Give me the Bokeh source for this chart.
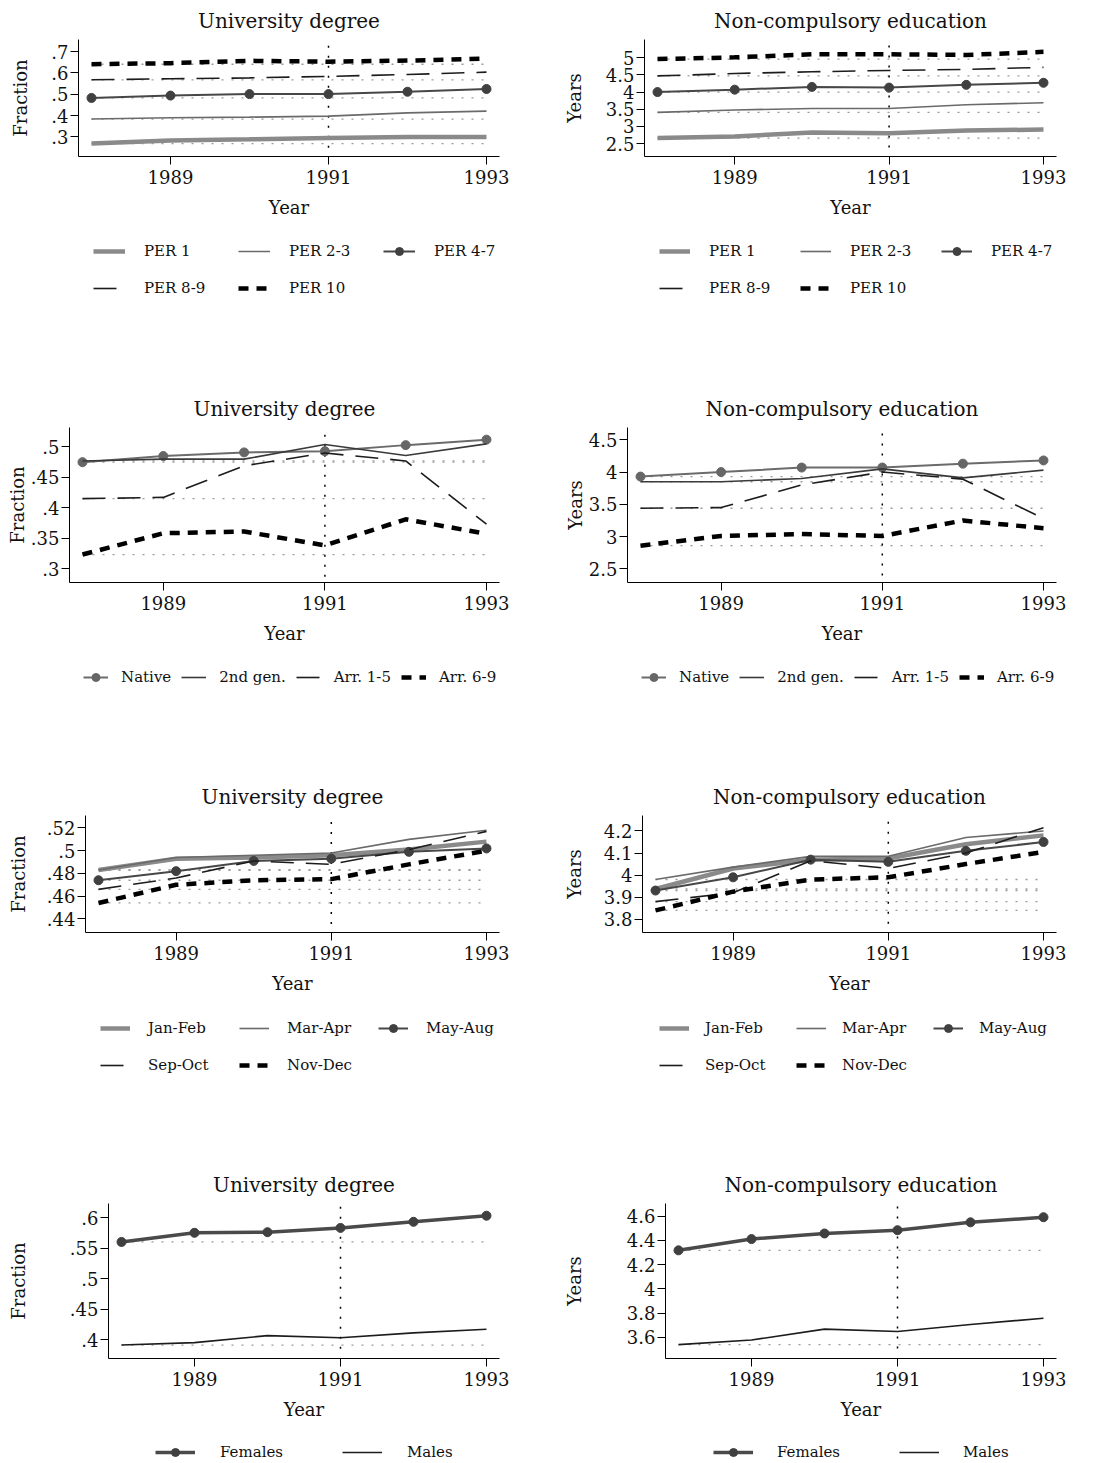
from bokeh.plotting import figure
from bokeh.models import Range1d, FixedTicker, Legend, LegendItem
from bokeh.layouts import row, column
from bokeh.embed import file_html
from bokeh.resources import INLINE

FONT = "DejaVu Serif"

# ---------------- data ----------------
years = [1988, 1989, 1990, 1991, 1992, 1993]
x_ticks = [1989, 1991, 1993]
x_tick_labels = ["1989", "1991", "1993"]
event_year = 1991
x_label = "Year"
title_uni = "University degree"
title_edu = "Non-compulsory education"
ylabel_uni = "Fraction"
ylabel_edu = "Years"

per_labels = ["PER 1", "PER 2-3", "PER 4-7", "PER 8-9", "PER 10"]
uni_per_1 = [0.269, 0.284, 0.289, 0.295, 0.300, 0.300]
uni_per_23 = [0.384, 0.390, 0.393, 0.398, 0.413, 0.421]
uni_per_47 = [0.483, 0.494, 0.501, 0.501, 0.512, 0.525]
uni_per_89 = [0.568, 0.573, 0.577, 0.584, 0.593, 0.604]
uni_per_10 = [0.641, 0.646, 0.657, 0.653, 0.658, 0.667]
edu_per_1 = [2.66, 2.71, 2.82, 2.80, 2.88, 2.91]
edu_per_23 = [3.41, 3.48, 3.52, 3.52, 3.63, 3.69]
edu_per_47 = [4.00, 4.07, 4.15, 4.13, 4.21, 4.27]
edu_per_89 = [4.47, 4.54, 4.59, 4.63, 4.66, 4.72]
edu_per_10 = [4.96, 5.01, 5.10, 5.10, 5.08, 5.17]

origin_labels = ["Native", "2nd gen.", "Arr. 1-5", "Arr. 6-9"]
uni_native = [0.475, 0.485, 0.491, 0.493, 0.503, 0.512]
uni_2nd = [0.477, 0.480, 0.480, 0.504, 0.486, 0.505]
uni_arr15 = [0.415, 0.417, 0.469, 0.490, 0.477, 0.373]
uni_arr69 = [0.323, 0.358, 0.361, 0.338, 0.381, 0.357]
edu_native = [3.93, 4.00, 4.07, 4.07, 4.13, 4.18]
edu_2nd = [3.85, 3.85, 3.90, 4.05, 3.91, 4.03]
edu_arr15 = [3.44, 3.45, 3.80, 4.00, 3.89, 3.28]
edu_arr69 = [2.86, 3.01, 3.04, 3.01, 3.25, 3.13]

month_labels = ["Jan-Feb", "Mar-Apr", "May-Aug", "Sep-Oct", "Nov-Dec"]
uni_janfeb = [0.483, 0.493, 0.494, 0.496, 0.501, 0.508]
uni_marapr = [0.483, 0.494, 0.496, 0.498, 0.510, 0.518]
uni_mayaug = [0.474, 0.482, 0.491, 0.493, 0.499, 0.502]
uni_sepoct = [0.466, 0.476, 0.491, 0.488, 0.501, 0.517]
uni_novdec = [0.454, 0.470, 0.474, 0.475, 0.488, 0.500]
edu_janfeb = [3.937, 4.030, 4.070, 4.075, 4.140, 4.180]
edu_marapr = [3.980, 4.036, 4.085, 4.085, 4.170, 4.200]
edu_mayaug = [3.930, 3.990, 4.070, 4.060, 4.110, 4.150]
edu_sepoct = [3.880, 3.920, 4.065, 4.030, 4.100, 4.215]
edu_novdec = [3.840, 3.925, 3.980, 3.990, 4.050, 4.105]

gender_labels = ["Females", "Males"]
uni_females = [0.560, 0.575, 0.576, 0.583, 0.593, 0.603]
uni_males = [0.391, 0.395, 0.4065, 0.403, 0.411, 0.417]
edu_females = [4.317, 4.410, 4.456, 4.483, 4.548, 4.590]
edu_males = [3.540, 3.578, 3.668, 3.649, 3.706, 3.758]

# y ticks / labels / axis limits / extent of the 1991 reference line
yt_uni_per = [0.3, 0.4, 0.5, 0.6, 0.7]
yl_uni_per = [".3", ".4", ".5", ".6", ".7"]
yt_edu_per = [2.5, 3.0, 3.5, 4.0, 4.5, 5.0]
yl_edu_per = ["2.5", "3", "3.5", "4", "4.5", "5"]
yt_uni_org = [0.3, 0.35, 0.4, 0.45, 0.5]
yl_uni_org = [".3", ".35", ".4", ".45", ".5"]
yt_edu_org = [2.5, 3.0, 3.5, 4.0, 4.5]
yl_edu_org = ["2.5", "3", "3.5", "4", "4.5"]
yt_uni_mon = [0.44, 0.46, 0.48, 0.5, 0.52]
yl_uni_mon = [".44", ".46", ".48", ".5", ".52"]
yt_edu_mon = [3.8, 3.9, 4.0, 4.1, 4.2]
yl_edu_mon = ["3.8", "3.9", "4", "4.1", "4.2"]
yt_uni_gen = [0.4, 0.45, 0.5, 0.55, 0.6]
yl_uni_gen = [".4", ".45", ".5", ".55", ".6"]
yt_edu_gen = [3.6, 3.8, 4.0, 4.2, 4.4, 4.6]
yl_edu_gen = ["3.6", "3.8", "4", "4.2", "4.4", "4.6"]

yr_uni_per = [0.2085, 0.757]
yr_edu_per = [2.125, 5.53]
yr_uni_org = [0.277, 0.532]
yr_edu_org = [2.29, 4.69]
yr_uni_mon = [0.428, 0.531]
yr_edu_mon = [3.74, 4.27]
yr_uni_gen = [0.369, 0.623]
yr_edu_gen = [3.426, 4.703]

vl_uni_per = [0.250, 0.750]
vl_edu_per = [2.385, 5.48]
vl_uni_org = [0.2865, 0.531]
vl_edu_org = [2.40, 4.678]
vl_uni_mon = [0.4354, 0.5295]
vl_edu_mon = [3.78, 4.264]
vl_uni_gen = [0.385, 0.6217]
vl_edu_gen = [3.508, 4.698]

# ---------------- styles ----------------
STY = {
    "thick_gray": dict(color="#8a8a8a", width=4.5, dash="solid", marker=None),
    "thin_gray": dict(color="#6a6a6a", width=1.6, dash="solid", marker=None),
    "dot_dark": dict(color="#474747", width=2.0, dash="solid", marker="#404040"),
    "long_dash": dict(color="#1c1c1c", width=1.6, dash="23 12", marker=None),
    "short_dash": dict(color="#000000", width=4.5, dash="10 8", marker=None),
    "thin_dark": dict(color="#3a3a3a", width=1.6, dash="solid", marker=None),
    "dot_gray": dict(color="#6b6b6b", width=2.0, dash="solid", marker="#666666"),
    "dot_thick": dict(color="#4a4a4a", width=3.5, dash="solid", marker="#404040"),
    "thin_black": dict(color="#1c1c1c", width=1.6, dash="solid", marker=None),
}
per_styles = ["thick_gray", "thin_gray", "dot_dark", "long_dash", "short_dash"]
org_styles = ["dot_gray", "thin_dark", "long_dash", "short_dash"]
gen_styles = ["dot_thick", "thin_black"]

panels = [
    dict(title=title_uni, ylabel=ylabel_uni, labels=per_labels, styles=per_styles,
         series=[uni_per_1, uni_per_23, uni_per_47, uni_per_89, uni_per_10],
         yt=yt_uni_per, yl=yl_uni_per, yr=yr_uni_per, vl=vl_uni_per),
    dict(title=title_edu, ylabel=ylabel_edu, labels=per_labels, styles=per_styles,
         series=[edu_per_1, edu_per_23, edu_per_47, edu_per_89, edu_per_10],
         yt=yt_edu_per, yl=yl_edu_per, yr=yr_edu_per, vl=vl_edu_per),
    dict(title=title_uni, ylabel=ylabel_uni, labels=origin_labels, styles=org_styles,
         series=[uni_native, uni_2nd, uni_arr15, uni_arr69],
         yt=yt_uni_org, yl=yl_uni_org, yr=yr_uni_org, vl=vl_uni_org),
    dict(title=title_edu, ylabel=ylabel_edu, labels=origin_labels, styles=org_styles,
         series=[edu_native, edu_2nd, edu_arr15, edu_arr69],
         yt=yt_edu_org, yl=yl_edu_org, yr=yr_edu_org, vl=vl_edu_org),
    dict(title=title_uni, ylabel=ylabel_uni, labels=month_labels, styles=per_styles,
         series=[uni_janfeb, uni_marapr, uni_mayaug, uni_sepoct, uni_novdec],
         yt=yt_uni_mon, yl=yl_uni_mon, yr=yr_uni_mon, vl=vl_uni_mon),
    dict(title=title_edu, ylabel=ylabel_edu, labels=month_labels, styles=per_styles,
         series=[edu_janfeb, edu_marapr, edu_mayaug, edu_sepoct, edu_novdec],
         yt=yt_edu_mon, yl=yl_edu_mon, yr=yr_edu_mon, vl=vl_edu_mon),
    dict(title=title_uni, ylabel=ylabel_uni, labels=gender_labels, styles=gen_styles,
         series=[uni_females, uni_males],
         yt=yt_uni_gen, yl=yl_uni_gen, yr=yr_uni_gen, vl=vl_uni_gen),
    dict(title=title_edu, ylabel=ylabel_edu, labels=gender_labels, styles=gen_styles,
         series=[edu_females, edu_males],
         yt=yt_edu_gen, yl=yl_edu_gen, yr=yr_edu_gen, vl=vl_edu_gen),
]

# ---------------- layout (pixels) ----------------
FIG_W = 547
ROW_H = [388, 388, 388, 298]
AXIS_AREA = 72
ITEM_H = 20
# frame: left, right, top, bottom (figure coords); ylab: axis label standoff
# legend: ncols, glyph_w, standoff, label_w, spacing, x offset, first-row centre below frame
layouts = [
    dict(frame=(78, 499, 38, 156), ylab=17, leg=(3, 32, 19, 77, 17, 15, 95)),
    dict(frame=(97, 509, 38, 156), ylab=18, leg=(3, 31, 19, 74, 17, 15, 95)),
    dict(frame=(69, 499, 37, 194), ylab=0, leg=(4, 25, 13, 10, 10, 14, 95)),
    dict(frame=(80, 509, 37, 194), ylab=0, leg=(4, 25, 13, 10, 10, 14, 95)),
    dict(frame=(85, 499, 37, 156), ylab=15, leg=(3, 30, 18, 74, 17, 15, 96)),
    dict(frame=(95, 509, 37, 156), ylab=16, leg=(3, 30, 16, 74, 17, 17, 96)),
    dict(frame=(108, 499, 38, 194), ylab=38, leg=(2, 40, 25, 105, 17, 47, 94)),
    dict(frame=(118, 509, 38, 194), ylab=39, leg=(2, 40, 24, 105, 17, 48, 94)),
]


def style_line(p, xs, ys, st):
    r = p.line(xs, ys, line_color=st["color"], line_width=st["width"],
               line_dash=st["dash"])
    rs = [r]
    if st["marker"]:
        rs.append(p.scatter(xs, ys, size=9, fill_color=st["marker"],
                            line_color=st["marker"], marker="circle"))
    return rs


def build(spec, lay, row_h):
    fl, fr, ft, fb = lay["frame"]
    main_h = fb + AXIS_AREA
    W = fr - fl
    pad = 13 * (years[-1] - years[0]) / (W - 26)
    p = figure(width=FIG_W, height=main_h, output_backend="svg", toolbar_location=None,
               x_range=Range1d(years[0] - pad, years[-1] + pad),
               y_range=Range1d(spec["yr"][0], spec["yr"][1]),
               min_border_left=fl, min_border_right=FIG_W - fr,
               min_border_top=ft, min_border_bottom=AXIS_AREA,
               title=spec["title"])
    p.outline_line_color = None
    p.xgrid.visible = False
    p.ygrid.visible = False
    p.background_fill_color = "white"
    p.border_fill_color = "white"
    p.title.align = "center"
    p.title.text_font = FONT
    p.title.text_font_size = "20px"
    p.title.text_font_style = "normal"
    p.title.text_color = "#111111"
    p.title.standoff = 13

    for ax in (p.xaxis[0], p.yaxis[0]):
        ax.axis_line_color = "black"
        ax.axis_line_width = 1
        ax.major_tick_line_color = "black"
        ax.major_tick_out = 8
        ax.major_tick_in = 0
        ax.minor_tick_line_color = None
        ax.major_label_text_font = FONT
        ax.major_label_text_font_size = "18px"
        ax.major_label_text_color = "#111111"
        ax.axis_label_text_font = FONT
        ax.axis_label_text_font_size = "18px"
        ax.axis_label_text_font_style = "normal"
        ax.axis_label_text_color = "#111111"
    xa = p.xaxis[0]
    xa.ticker = FixedTicker(ticks=x_ticks)
    xa.major_label_overrides = {t: l for t, l in zip(x_ticks, x_tick_labels)}
    xa.major_label_standoff = 5
    xa.axis_label = x_label
    xa.axis_label_standoff = 10
    ya = p.yaxis[0]
    ya.ticker = FixedTicker(ticks=spec["yt"])
    ya.major_label_overrides = {t: l for t, l in zip(spec["yt"], spec["yl"])}
    ya.major_label_standoff = 2
    ya.axis_label = spec["ylabel"]
    ya.axis_label_standoff = lay["ylab"]

    # baseline (1988 level) dotted lines
    for vals in spec["series"]:
        p.line([years[0], years[-1]], [vals[0], vals[0]], line_color="#9a9a9a",
               line_width=1.3, line_dash="2 8")
    # reference year
    p.line([event_year, event_year], spec["vl"], line_color="black",
           line_width=1.5, line_dash="2 8")

    for vals, sk in zip(spec["series"], spec["styles"]):
        style_line(p, years, vals, STY[sk])

    # legend strip below the plot (its frame is aligned with the plot's frame;
    # the series drawn here fall outside its range and only feed the legend)
    leg_h = row_h - main_h
    lf = figure(width=FIG_W, height=leg_h, output_backend="svg", toolbar_location=None,
                x_range=Range1d(0, 1), y_range=Range1d(0, 1),
                x_axis_location=None, y_axis_location=None,
                min_border_left=fl, min_border_right=FIG_W - fr,
                min_border_top=0, min_border_bottom=0)
    lf.outline_line_color = None
    lf.xgrid.visible = False
    lf.ygrid.visible = False
    lf.background_fill_color = "white"
    lf.border_fill_color = "white"
    items = []
    for lab, vals, sk in zip(spec["labels"], spec["series"], spec["styles"]):
        items.append(LegendItem(label=lab, renderers=style_line(lf, years, vals, STY[sk])))

    ncols, gw, lso, lw, sp, ox, oy = lay["leg"]
    nrows = (len(items) + ncols - 1) // ncols
    H = nrows * ITEM_H + (nrows - 1) * sp
    top = fb + oy - main_h - ITEM_H / 2
    leg = Legend(items=items, ncols=ncols, orientation="horizontal",
                 glyph_width=gw, glyph_height=ITEM_H, label_height=ITEM_H,
                 label_standoff=lso, label_width=lw, spacing=sp,
                 padding=0, margin=0,
                 label_text_font=FONT, label_text_font_size="15px",
                 label_text_color="#111111",
                 background_fill_alpha=0, border_line_alpha=0,
                 location=(ox, leg_h - top - H))
    lf.add_layout(leg)
    return column(p, lf)


cells = []
for i, (spec, lay) in enumerate(zip(panels, layouts)):
    cells.append(build(spec, lay, ROW_H[i // 2]))

layout = column(*[row(cells[2 * k], cells[2 * k + 1]) for k in range(4)])
open("out.html", "w").write(file_html(layout, INLINE))
